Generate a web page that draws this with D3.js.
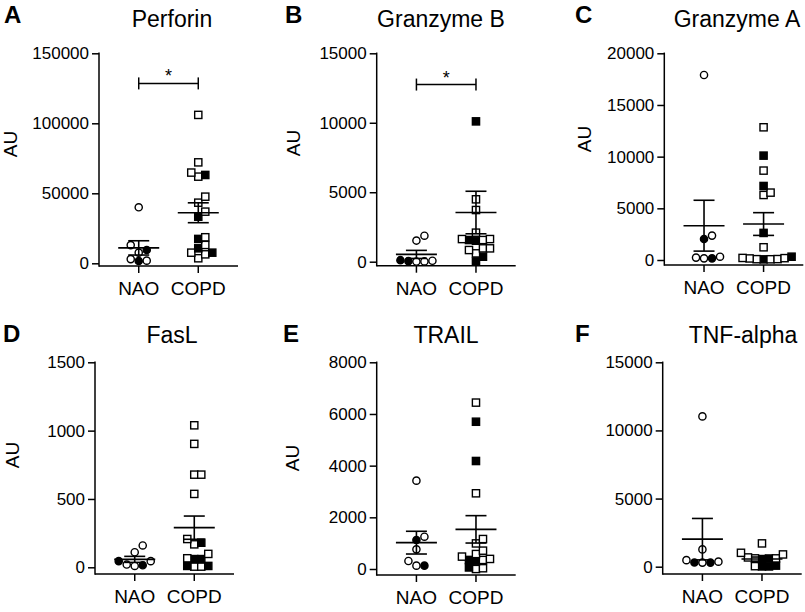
<!DOCTYPE html>
<html>
<head>
<meta charset="utf-8">
<script src="https://cdn.jsdelivr.net/npm/d3@7"></script>
<style>
  html, body { margin: 0; padding: 0; background: #fff; }
  svg { display: block; }
  text { font-family: Arial, "Liberation Sans", Helvetica, sans-serif; fill: #000; }
</style>
</head>
<body>
<svg id="chart" width="805" height="612"></svg>
<script>
// ---------- DATA ----------
const titles  = ["Perforin", "Granzyme B", "Granzyme A", "FasL", "TRAIL", "TNF-alpha"];
const letters = ["A", "B", "C", "D", "E", "F"];
const groups  = ["NAO", "COPD"];
const yMax    = [150000, 15000, 20000, 1500, 8000, 15000];
const yStep   = [50000, 5000, 5000, 500, 2000, 5000];
const showYLabel = [true, true, true, true, true, false];
const yLabel = "AU";

// NAO (circles): open / filled markers
const naoOpen = [
  [40000, 13000, 7600, 1900, 3000],
  [1520, 1870, 20, 70, 10],
  [17900, 2360, 160, 320, 230],
  [160, 110, 45, 20, 10],
  [3420, 1250, 760, 310, 130],
  [11030, 1270, 300, 480, 370]
];
const naoFilled = [
  [9500, 1640],
  [40, 110],
  [2030, 160],
  [45, 15],
  [1120, 130],
  [310, 300]
];
// COPD (squares): open / filled markers
const copdOpen = [
  [106000, 72100, 64800, 61900, 47600, 43300, 36900, 18600, 13100, 7600, 6400, 3600],
  [4490, 3720, 2090, 1560, 1630, 1630, 960, 960, 600, 840],
  [12840, 8650, 6520, 6290, 1230, 150, 200, 180, 90, 70, 80],
  [1039, 903, 678, 678, 537, 207, 168, 98, 5, 66, 5],
  [6440, 2930, 1160, 990, 710, 580, 480, 390, 350, 30, 0],
  [1710, 1020, 900, 680, 610, 610, 40]
];
const copdFilled = [
  [63100, 33300, 17400, 10700, 7600],
  [10100, 1510, 1560, 360, 20],
  [10100, 7160, 2620, 320, 60],
  [180, 60, 10, 60, 10],
  [5700, 4180, 350, 300, 60],
  [600, 560, 20, 80, 20]
];
// mean and SEM as drawn in the figure
const naoMean  = [11000, 525, 3320, 58, 1020, 2020];
const naoSEM   = [5100, 290, 2460, 22, 440, 1520];
const copdMean = [36100, 3540, 3480, 290, 1535, 560];
const copdSEM  = [7100, 1530, 1100, 85, 530, 150];
// significance bars: value at which the bracket sits (null = none)
const sigLevel = [128500, 12750, null, null, null, null];
const sigLabel = ["*", "*", "", "", "", ""];

// ---------- LAYOUT ----------
const layout = [
  {ax: 99,    yTop: 53.3,  y0: 263.3, xAxisY: 266,   letterX: 4,   letterY: 23,  titleX: 172, titleY: 27,  auX: 10,  auY: 144},
  {ax: 376.7, yTop: 53.3,  y0: 261.7, xAxisY: 265.7, letterX: 285, letterY: 23,  titleX: 441, titleY: 27,  auX: 293, auY: 143},
  {ax: 664.3, yTop: 53.3,  y0: 260,   xAxisY: 265,   letterX: 575, letterY: 23,  titleX: 737, titleY: 27,  auX: 584, auY: 139},
  {ax: 95,    yTop: 362.3, y0: 567.3, xAxisY: 574,   letterX: 3,   letterY: 342, titleX: 172, titleY: 343, auX: 12,  auY: 455},
  {ax: 376.7, yTop: 362.3, y0: 569,   xAxisY: 575,   letterX: 283, letterY: 342, titleX: 446, titleY: 343, auX: 292, auY: 458},
  {ax: 662.7, yTop: 362.3, y0: 566.7, xAxisY: 574,   letterX: 575, letterY: 342, titleX: 743, titleY: 343, auX: 0,   auY: 0}
];
const plotW = 139;
const mk = 7.2;      // marker size

const svg = d3.select("#chart");
svg.append("rect").attr("width", 805).attr("height", 612).attr("fill", "#fff");

// simple beeswarm: nearest free horizontal slot, rectangular collision
function swarm(points, y, cx, dxMin, dyMin) {
  const pts = points.map(p => ({...p, y: y(p.v)})).sort((a, b) => a.v - b.v);
  const placed = [];
  const offs = [0];
  for (let k = 1; k <= 40; k++) { offs.push(k, -k); }
  pts.forEach(p => {
    let xx = cx;
    for (const o of offs) {
      const x = cx + o;
      if (placed.every(q => Math.abs(q.x - x) >= dxMin || Math.abs(q.y - p.y) >= dyMin)) { xx = x; break; }
    }
    p.x = xx;
    placed.push(p);
  });
  return placed;
}

titles.forEach((title, i) => {
  const L = layout[i];
  const g = svg.append("g");
  const y = d3.scaleLinear().domain([0, yMax[i]]).range([L.y0, L.yTop]);
  const x = d3.scalePoint().domain(groups).range([L.ax, L.ax + plotW]).padding(0.667);

  // y axis
  const yAxis = d3.axisLeft(y)
    .tickValues(d3.range(0, yMax[i] + 1, yStep[i]))
    .tickFormat(d3.format("d"))
    .tickSize(7).tickPadding(3);
  const ya = g.append("g").attr("transform", `translate(${L.ax},0)`).call(yAxis);
  ya.select(".domain").remove();
  ya.selectAll(".tick line").attr("stroke", "#000").attr("stroke-width", 1.5);
  ya.selectAll(".tick text").attr("font-size", 17).attr("fill", "#000")
    .style("font-family", "Arial, 'Liberation Sans', sans-serif");
  g.append("line").attr("x1", L.ax).attr("x2", L.ax)
    .attr("y1", L.yTop - 0.75).attr("y2", L.xAxisY + 0.75)
    .attr("stroke", "#000").attr("stroke-width", 1.5);

  // x axis
  g.append("line").attr("x1", L.ax).attr("x2", L.ax + plotW)
    .attr("y1", L.xAxisY).attr("y2", L.xAxisY)
    .attr("stroke", "#000").attr("stroke-width", 1.5);
  groups.forEach(gr => {
    g.append("line").attr("x1", x(gr)).attr("x2", x(gr))
      .attr("y1", L.xAxisY).attr("y2", L.xAxisY + 7)
      .attr("stroke", "#000").attr("stroke-width", 1.5);
    g.append("text").attr("x", x(gr)).attr("y", L.xAxisY + 29)
      .attr("text-anchor", "middle").attr("font-size", 19).text(gr);
  });

  // title, letter, y label
  g.append("text").attr("x", L.titleX).attr("y", L.titleY)
    .attr("text-anchor", "middle").attr("font-size", 23).text(title);
  g.append("text").attr("x", L.letterX).attr("y", L.letterY)
    .attr("font-size", 24).attr("font-weight", "bold").text(letters[i]);
  if (showYLabel[i]) {
    g.append("text").attr("transform", `translate(${L.auX + 7},${L.auY}) rotate(-90)`)
      .attr("text-anchor", "middle").attr("font-size", 19).text(yLabel);
  }

  // points: NAO circles
  const nao = swarm(
    naoOpen[i].map(v => ({v, f: false})).concat(naoFilled[i].map(v => ({v, f: true}))),
    y, x("NAO"), 8, 8);
  g.selectAll(null).data(nao).enter().append("circle")
    .attr("cx", d => d.x).attr("cy", d => d.y).attr("r", mk / 2)
    .attr("fill", d => d.f ? "#000" : "#fff")
    .attr("stroke", "#000").attr("stroke-width", 1.4);

  // COPD squares
  const copd = swarm(
    copdOpen[i].map(v => ({v, f: false})).concat(copdFilled[i].map(v => ({v, f: true}))),
    y, x("COPD"), 6.2, 7.2);
  g.selectAll(null).data(copd).enter().append("rect")
    .attr("x", d => d.x - mk / 2).attr("y", d => d.y - mk / 2)
    .attr("width", mk).attr("height", mk)
    .attr("fill", d => d.f ? "#000" : "#fff")
    .attr("stroke", "#000").attr("stroke-width", 1.4);

  // mean +/- SEM
  const stats = [
    {gr: "NAO", m: naoMean[i], s: naoSEM[i]},
    {gr: "COPD", m: copdMean[i], s: copdSEM[i]}
  ];
  stats.forEach(st => {
    const cx = x(st.gr);
    const lo = Math.max(0, st.m - st.s), hi = st.m + st.s;
    g.append("line").attr("x1", cx - 20.5).attr("x2", cx + 20.5)
      .attr("y1", y(st.m)).attr("y2", y(st.m)).attr("stroke", "#000").attr("stroke-width", 1.6);
    g.append("line").attr("x1", cx).attr("x2", cx)
      .attr("y1", y(hi)).attr("y2", y(lo)).attr("stroke", "#000").attr("stroke-width", 1.6);
    [lo, hi].forEach(v => {
      g.append("line").attr("x1", cx - 10.5).attr("x2", cx + 10.5)
        .attr("y1", y(v)).attr("y2", y(v)).attr("stroke", "#000").attr("stroke-width", 1.6);
    });
  });

  // significance bracket
  if (sigLevel[i] !== null) {
    const by = y(sigLevel[i]);
    const x1 = x("NAO"), x2 = x("COPD");
    g.append("line").attr("x1", x1).attr("x2", x2).attr("y1", by).attr("y2", by)
      .attr("stroke", "#000").attr("stroke-width", 1.5);
    [x1, x2].forEach(xx => {
      g.append("line").attr("x1", xx).attr("x2", xx).attr("y1", by - 6).attr("y2", by + 6)
        .attr("stroke", "#000").attr("stroke-width", 1.5);
    });
    g.append("text").attr("x", (x1 + x2) / 2).attr("y", by - 1)
      .attr("text-anchor", "middle").attr("font-size", 18).text(sigLabel[i]);
  }
});
</script>
</body>
</html>
